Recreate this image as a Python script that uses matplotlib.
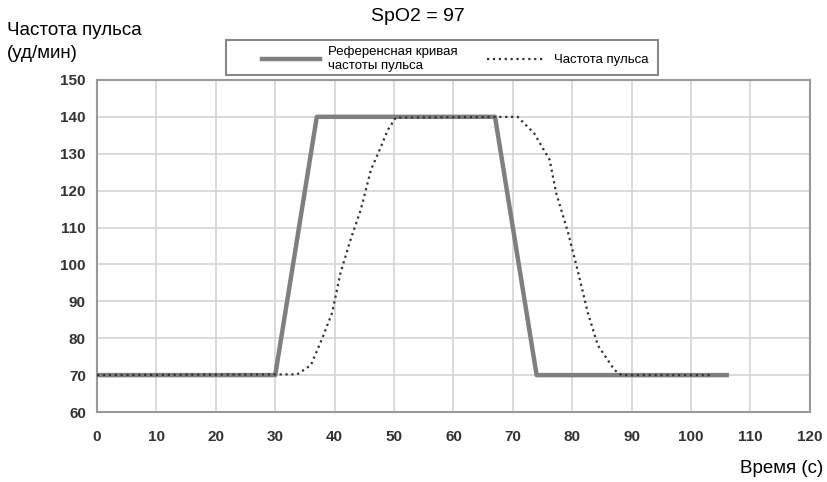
import matplotlib.pyplot as plt
from matplotlib.patches import Rectangle

plt.rcParams['font.family'] = ['Liberation Sans', 'DejaVu Sans']

# Reference pulse rate curve
ref_time = [0, 30, 37, 67, 74, 106]
ref_rate = [70, 70, 140, 140, 70, 70]

# Measured pulse rate
pulse_time = [0, 33.7, 36, 37.9, 39.6, 41, 42.7, 44.4, 46.1, 47.8, 48.9, 50.3,
              70.8, 73.6, 76.2, 77.3, 79.3, 81, 82.6, 84.3, 87.1, 88.3, 103.5]
pulse_rate = [70, 70.2, 72.7, 79.9, 87, 97.8, 106.8, 114.8, 125.6, 131.9, 136.3, 139.8,
              140, 135.5, 128.3, 119.3, 108.6, 97.8, 87, 78.1, 71.4, 70, 70]

x_ticks = list(range(0, 121, 10))
y_ticks = list(range(60, 151, 10))

fig = plt.figure(figsize=(8.27, 4.82), dpi=100)
ax = fig.add_axes([0.1173, 0.1452, 0.862, 0.689])

ax.plot(ref_time, ref_rate, color='#7f7f7f', linewidth=3.2,
        label='Референсная кривая\nчастоты пульса', zorder=3)
ax.plot(pulse_time, pulse_rate, color='#333333', linewidth=1.6, linestyle=':',
        label='Частота пульса', zorder=4)

ax.set_xlim(0, 120)
ax.set_ylim(60, 150)
ax.set_xticks(x_ticks)
ax.set_yticks(y_ticks)
ax.grid(True, color='#d4d4d4', linewidth=1.2)
ax.set_axisbelow(True)
for spine in ax.spines.values():
    spine.set_color('#999999')
    spine.set_linewidth(1.5)
ax.tick_params(length=0, labelsize=11, labelcolor='#333333')
ax.tick_params(axis='x', pad=13)
ax.tick_params(axis='y', pad=8)
for lbl in ax.get_xticklabels() + ax.get_yticklabels():
    lbl.set_fontweight('bold')

fig.text(0.505, 0.965, 'SpO2 = 97', ha='center', va='center', fontsize=14)
fig.text(0.008, 0.937, 'Частота пульса', ha='left', va='center', fontsize=13.5)
fig.text(0.008, 0.888, '(уд/мин)', ha='left', va='center', fontsize=13.5)
fig.text(0.995, 0.027, 'Время (с)', ha='right', va='center', fontsize=13.5)

# legend box is wider than its content, so draw the frame separately
fig.patches.append(Rectangle((0.2733, 0.8444), 0.5224, 0.0726, transform=fig.transFigure,
                             facecolor='white', edgecolor='#888888', linewidth=1.5))
fig.legend(loc='center', bbox_to_anchor=(0.550, 0.878), ncol=2, fontsize=9.5,
           frameon=False, handlelength=4.4, borderaxespad=0, borderpad=0,
           handletextpad=0.65, columnspacing=2.2, labelspacing=0.45)

fig.savefig('out.png', dpi=100)
